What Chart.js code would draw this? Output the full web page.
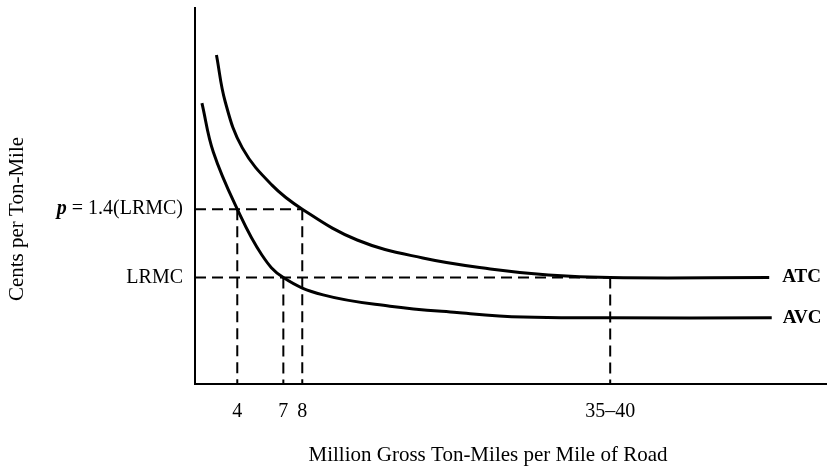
<!DOCTYPE html>
<html>
<head>
<meta charset="utf-8">
<script src="https://cdn.jsdelivr.net/npm/chart.js@4/dist/chart.umd.min.js"></script>
<style>
  body { margin: 0; background: #fff; }
</style>
</head>
<body>
<canvas id="costChart" width="833" height="470"></canvas>
<script>
// schematic units: the figure has no numeric scale, so x and y run 0..100
const atcX = [3.4, 4.8, 7.5, 12.2, 17.0, 25.7, 36.1, 46.8, 56.0, 65.8, 91.0]
const atcY = [87.5, 75.0, 62.8, 52.9, 46.5, 38.3, 33.5, 30.6, 29.0, 28.3, 28.3]
const avcX = [1.1, 2.9, 6.7, 10.6, 14.0, 20.3, 30.9, 41.5, 52.0, 65.3, 91.4]
const avcY = [74.7, 61.7, 46.5, 34.3, 28.3, 23.7, 20.7, 19.0, 17.8, 17.6, 17.6]

const priceLevel = 46.5
const lrmcLevel = 28.3
const xTickPos = [6.7, 14.0, 17.0, 65.8]
const xTickLabels = ['4', '7', '8', '35–40']

const serif = '"Liberation Serif", "DejaVu Serif", serif'

function pts(xs, ys) {
    let out = []
    for (let i = 0; i < xs.length; i++) out.push({x: xs[i], y: ys[i]})
    return out
}

function guide(points) {
    return {
        data: points,
        borderColor: '#000',
        borderWidth: 2,
        borderDash: [11, 6],
        pointRadius: 0,
        showLine: true,
        tension: 0
    }
}

const labelPlugin = {
    id: 'labels',
    afterDraw(chart) {
        const ctx = chart.ctx
        const xs = chart.scales.x
        const ys = chart.scales.y
        ctx.save()
        ctx.fillStyle = '#000'
        ctx.textBaseline = 'middle'

        // y level labels
        const left = xs.getPixelForValue(0) - 12
        ctx.textAlign = 'right'
        ctx.font = '20px ' + serif
        ctx.fillText('LRMC', left, ys.getPixelForValue(lrmcLevel))
        const rest = ' = 1.4(LRMC)'
        const restW = ctx.measureText(rest).width
        ctx.fillText(rest, left, ys.getPixelForValue(priceLevel))
        ctx.font = 'italic bold 20px ' + serif
        ctx.fillText('p', left - restW, ys.getPixelForValue(priceLevel))

        // curve names
        ctx.textAlign = 'left'
        ctx.font = 'bold 19px ' + serif
        ctx.fillText('ATC', xs.getPixelForValue(atcX[atcX.length - 1]) + 13, ys.getPixelForValue(atcY[atcY.length - 1]))
        ctx.fillText('AVC', xs.getPixelForValue(avcX[avcX.length - 1]) + 11, ys.getPixelForValue(avcY[avcY.length - 1]))

        // axis titles
        ctx.font = '21px ' + serif
        ctx.textAlign = 'center'
        ctx.fillText('Million Gross Ton-Miles per Mile of Road', 488, 455)
        ctx.translate(17, 219)
        ctx.rotate(-Math.PI / 2)
        ctx.fillText('Cents per Ton-Mile', 0, 0)
        ctx.restore()
    }
}

new Chart(document.getElementById('costChart'), {
    type: 'scatter',
    data: {
        datasets: [
            {
                label: 'ATC',
                data: pts(atcX, atcY),
                borderColor: '#000',
                borderWidth: 3,
                pointRadius: 0,
                showLine: true,
                tension: 0.4
            },
            {
                label: 'AVC',
                data: pts(avcX, avcY),
                borderColor: '#000',
                borderWidth: 3,
                pointRadius: 0,
                showLine: true,
                tension: 0.4
            },
            guide([{x: 0, y: priceLevel}, {x: xTickPos[2], y: priceLevel}]),
            guide([{x: xTickPos[0], y: priceLevel}, {x: xTickPos[0], y: 0}]),
            guide([{x: xTickPos[2], y: priceLevel}, {x: xTickPos[2], y: 0}]),
            guide([{x: 0, y: lrmcLevel}, {x: xTickPos[3], y: lrmcLevel}]),
            guide([{x: xTickPos[1], y: lrmcLevel}, {x: xTickPos[1], y: 0}]),
            guide([{x: xTickPos[3], y: lrmcLevel}, {x: xTickPos[3], y: 0}])
        ]
    },
    options: {
        responsive: false,
        animation: false,
        devicePixelRatio: 1,
        layout: { padding: { top: 8, right: 7, left: 0, bottom: 0 } },
        plugins: {
            legend: { display: false },
            tooltip: { enabled: false }
        },
        scales: {
            x: {
                type: 'linear',
                min: 0,
                max: 100,
                afterFit: function (scale) { scale.height = 86 },
                afterBuildTicks: function (scale) {
                    scale.ticks = xTickPos.map(v => ({value: v}))
                },
                grid: { display: false },
                border: { color: '#000', width: 2 },
                ticks: {
                    autoSkip: false,
                    maxRotation: 0,
                    padding: 8,
                    color: '#000',
                    font: { family: serif, size: 20 },
                    callback: function (value) {
                        return xTickLabels[xTickPos.indexOf(value)]
                    }
                }
            },
            y: {
                type: 'linear',
                min: 0,
                max: 100,
                afterFit: function (scale) { scale.width = 195 },
                grid: { display: false },
                border: { color: '#000', width: 2 },
                ticks: { display: false }
            }
        }
    },
    plugins: [labelPlugin]
});
</script>
</body>
</html>
